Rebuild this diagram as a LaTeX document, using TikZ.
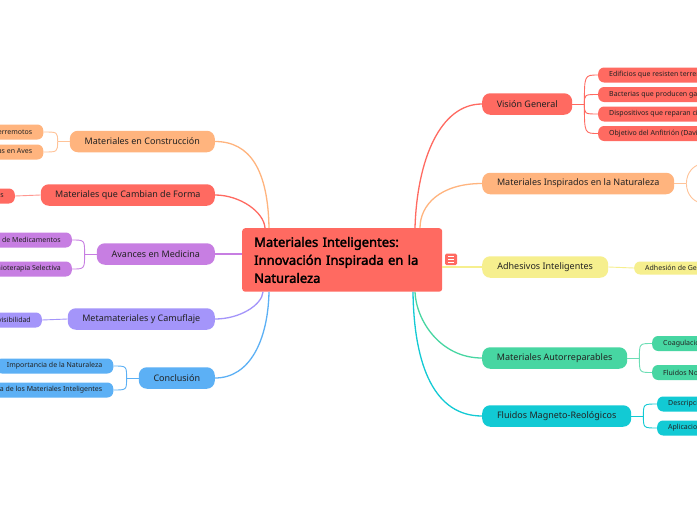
\documentclass[tikz,border=0pt]{standalone}
\usepackage{fontspec}
\setmainfont{Noto Sans}[AutoFakeBold=2.2]
\definecolor{mmred}{HTML}{FF6A61}
\definecolor{mmorange}{HTML}{FFB47E}
\definecolor{mmyellow}{HTML}{F6EF8E}
\definecolor{mmgreen}{HTML}{47D6A2}
\definecolor{mmcyan}{HTML}{12CAD4}
\definecolor{mmpurple}{HTML}{C77EE2}
\definecolor{mmviolet}{HTML}{A495FA}
\definecolor{mmblue}{HTML}{5CB0F5}
\definecolor{mmtext}{HTML}{222222}

\begin{document}
\begin{tikzpicture}[
  x=1pt,
  y=-1pt,
  main topic/.style={
    fill=mmred,
    rounded corners=3,
    text=black,
    font=\fontsize{13}{18}\selectfont\bfseries,
    align=left,
    text width=176,
    inner xsep=12,
    inner ysep=0,
    minimum height=63.5
  },
  branch/.style={
    rounded corners=8,
    text=mmtext,
    font=\fontsize{9}{11}\selectfont,
    inner xsep=4,
    inner ysep=0,
    minimum height=21.5
  },
  leaf/.style={
    rounded corners=6,
    text=mmtext,
    font=\fontsize{7}{9}\selectfont,
    inner xsep=11,
    inner ysep=0,
    minimum height=15
  },
  branch link/.style={
    line width=1.3pt
  },
  leaf link/.style={
    line width=0.9pt
  },
]
\useasboundingbox (0,0) rectangle (697,520);
\clip (0,0) rectangle (697,520);
\fill[white] (0,0) rectangle (697,520);

\node[main topic, anchor=north west] (root) at (242,228) {Materiales Inteligentes:\\Innovación Inspirada en la\\Naturaleza};

\node[branch, fill=mmred, minimum width=90, anchor=west] (vision) at (482,104) {Visión General};
\node[branch, fill=mmorange, minimum width=192, anchor=west] (inspirados) at (482,183.5) {Materiales Inspirados en la Naturaleza};
\node[branch, fill=mmyellow, minimum width=126, anchor=west] (adhesivos) at (482,267) {Adhesivos Inteligentes};
\node[branch, fill=mmgreen, minimum width=145, anchor=west] (autorrep) at (482,358) {Materiales Autorreparables};
\node[branch, fill=mmcyan, minimum width=149, anchor=west] (fluidos) at (482,416) {Fluidos Magneto-Reológicos};

\node[branch, fill=mmorange, minimum width=145, anchor=east] (construccion) at (215,141.5) {Materiales en Construcción};
\node[branch, fill=mmred, minimum width=174, anchor=east] (forma) at (215,195) {Materiales que Cambian de Forma};
\node[branch, fill=mmpurple, minimum width=118, anchor=east] (medicina) at (215,254) {Avances en Medicina};
\node[branch, fill=mmviolet, minimum width=147, anchor=east] (camuflaje) at (215,319) {Metamateriales y Camuflaje};
\node[branch, fill=mmblue, minimum width=76, anchor=east] (conclusion) at (215,378) {Conclusión};

\node[leaf, fill=mmred, anchor=west] (vision1) at (598,75) {Edificios que resisten terremotos};
\node[leaf, fill=mmred, anchor=west] (vision2) at (598,94.5) {Bacterias que producen gas};
\node[leaf, fill=mmred, anchor=west] (vision3) at (598,114) {Dispositivos que reparan circuitos};
\node[leaf, fill=mmred, anchor=west] (vision4) at (598,133.5) {Objetivo del Anfitrión (David)};
\node[leaf, fill=mmyellow, anchor=west, minimum height=13] (adhesivos1) at (634,268) {Adhesión de Gecos};
\node[leaf, fill=mmgreen, anchor=west] (autorrep1) at (652,343.5) {Coagulación Sanguínea};
\node[leaf, fill=mmgreen, anchor=west] (autorrep2) at (652,372.5) {Fluidos No Newtonianos};
\node[leaf, fill=mmcyan, anchor=west] (fluidos1) at (657,404) {Descripción};
\node[leaf, fill=mmcyan, anchor=west] (fluidos2) at (657,428) {Aplicaciones};

\node[leaf, fill=mmorange, anchor=east] (construccion1) at (43.5,132) {Resistencia a Terremotos};
\node[leaf, fill=mmorange, anchor=east] (construccion2) at (43.5,152) {Estructuras Inspiradas en Aves};
\node[leaf, fill=mmred, anchor=east] (forma1) at (15,196) {Aplicaciones};
\node[leaf, fill=mmpurple, anchor=east] (medicina1) at (72,240) {Liberación de Medicamentos};
\node[leaf, fill=mmpurple, anchor=east] (medicina2) at (72,269) {Quimioterapia Selectiva};
\node[leaf, fill=mmviolet, anchor=east] (camuflaje1) at (42,320) {Invisibilidad};
\node[leaf, fill=mmblue, anchor=east] (conclusion1) at (113.5,366) {Importancia de la Naturaleza};
\node[leaf, fill=mmblue, anchor=east] (conclusion2) at (113.5,390) {Relevancia de los Materiales Inteligentes};

\draw[branch link, mmred] ([xshift=173]root.north west) .. controls +(2,-68) and +(-42,0) .. (vision.west);
\draw[branch link, mmorange] ([xshift=178]root.north west) .. controls +(0,-23) and +(-42,0) .. (inspirados.west);
\draw[branch link, mmyellow] (adhesivos.west -| root.east) -- (adhesivos.west);
\draw[branch link, mmgreen] ([xshift=173]root.south west) .. controls +(1,28) and +(-42,0) .. (autorrep.west);
\draw[branch link, mmcyan] ([xshift=171]root.south west) .. controls +(1,75) and +(-47,0) .. (fluidos.west);
\draw[branch link, mmorange] ([xshift=27]root.north west) .. controls +(-1,-58) and +(35,0) .. (construccion.east);
\draw[branch link, mmred] ([xshift=23]root.north west) .. controls +(-1,-16) and +(25,0) .. (forma.east);
\draw[branch link, mmpurple] (medicina.east -| root.west) -- (medicina.east);
\draw[branch link, mmviolet] ([xshift=21]root.south west) .. controls +(-1,13) and +(25,0) .. (camuflaje.east);
\draw[branch link, mmblue] ([xshift=27]root.south west) .. controls +(-1,48) and +(35,0) .. (conclusion.east);

\draw[leaf link, mmred] (vision.east) -- ++(12,0) coordinate (visionj);
\draw[leaf link, mmred] (visionj) .. controls (visionj |- vision1.west) .. (vision1.west);
\draw[leaf link, mmred] (visionj) .. controls (visionj |- vision2.west) .. (vision2.west);
\draw[leaf link, mmred] (visionj) .. controls (visionj |- vision3.west) .. (vision3.west);
\draw[leaf link, mmred] (visionj) .. controls (visionj |- vision4.west) .. (vision4.west);
\draw[leaf link, mmorange!80] (inspirados.east) -- ++(12,0) coordinate (inspiradosj);
\coordinate (inspirados1) at (705,163.5);
\coordinate (inspirados2) at (705,203.5);
\draw[leaf link, mmorange!80] (inspiradosj) .. controls +(0,-11) and +(-11,0) .. (inspirados1);
\draw[leaf link, mmorange!80] (inspiradosj) .. controls +(0,11) and +(-11,0) .. (inspirados2);
\draw[leaf link, mmyellow] (adhesivos.east) -- (adhesivos1.west);
\draw[leaf link, mmgreen!80] (autorrep.east) -- ++(12,0) coordinate (autorrepj);
\draw[leaf link, mmgreen!80] (autorrepj) .. controls (autorrepj |- autorrep1.west) .. (autorrep1.west);
\draw[leaf link, mmgreen!80] (autorrepj) .. controls (autorrepj |- autorrep2.west) .. (autorrep2.west);
\draw[leaf link, mmcyan] (fluidos.east) -- ++(12,0) coordinate (fluidosj);
\draw[leaf link, mmcyan] (fluidosj) .. controls (fluidosj |- fluidos1.west) .. (fluidos1.west);
\draw[leaf link, mmcyan] (fluidosj) .. controls (fluidosj |- fluidos2.west) .. (fluidos2.west);

\draw[leaf link, mmorange!80] (construccion.west) -- ++(-12,0) coordinate (construccionj);
\draw[leaf link, mmorange!80] (construccionj) .. controls (construccionj |- construccion1.east) .. (construccion1.east);
\draw[leaf link, mmorange!80] (construccionj) .. controls (construccionj |- construccion2.east) .. (construccion2.east);
\draw[leaf link, mmred!70] (forma.west) -- (forma1.east);
\draw[leaf link, mmpurple] (medicina.west) -- ++(-12,0) coordinate (medicinaj);
\draw[leaf link, mmpurple] (medicinaj) .. controls (medicinaj |- medicina1.east) .. (medicina1.east);
\draw[leaf link, mmpurple] (medicinaj) .. controls (medicinaj |- medicina2.east) .. (medicina2.east);
\draw[leaf link, mmviolet] (camuflaje.west) -- (camuflaje1.east);
\draw[leaf link, mmblue] (conclusion.west) -- ++(-12,0) coordinate (conclusionj);
\draw[leaf link, mmblue] (conclusionj) .. controls (conclusionj |- conclusion1.east) .. (conclusion1.east);
\draw[leaf link, mmblue] (conclusionj) .. controls (conclusionj |- conclusion2.east) .. (conclusion2.east);

\fill[mmred, rounded corners=1.5] (445,253.5) rectangle (457,265);
\draw[white, line width=0.8] (448,256.5) -- (454,256.5) (448,259.2) -- (454,259.2) (448,262) -- (454,262);
\end{tikzpicture}
\end{document}
